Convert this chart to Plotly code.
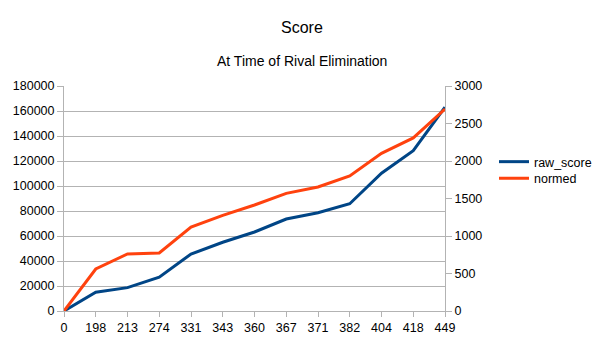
import plotly.graph_objects as go

categories = ["0", "198", "213", "274", "331", "343", "360", "367", "371", "382", "404", "418", "449"]
raw_score = [0, 15000, 18700, 27000, 45600, 55000, 63200, 73600, 78600, 85800, 110200, 128200, 163000]
normed = [0, 560, 760, 773, 1120, 1276, 1413, 1569, 1653, 1800, 2102, 2307, 2693]

FONT = "Liberation Sans, Arial, sans-serif"
GRID = "#b3b3b3"
L, R, T, B = 64, 160, 85.5, 29
W, H = 605, 340
pw, ph = W - L - R, H - T - B


def px_x(x):
    return (x - L) / pw


def px_y(y):
    return (H - B - y) / ph


fig = go.Figure()
fig.add_trace(go.Scatter(x=categories, y=raw_score, name="raw_score", mode="lines",
                         line=dict(color="#004586", width=3), yaxis="y", legend="legend"))
fig.add_trace(go.Scatter(x=categories, y=normed, name="normed", mode="lines",
                         line=dict(color="#ff420e", width=3), yaxis="y2", legend="legend2"))

leg_common = dict(xanchor="left", yanchor="middle", font=dict(size=12.5),
                  bgcolor="rgba(0,0,0,0)", itemwidth=30)

fig.update_layout(
    width=W, height=H,
    margin=dict(l=L, r=R, t=T, b=B, autoexpand=False),
    paper_bgcolor="white", plot_bgcolor="white",
    font=dict(family=FONT, size=12.5, color="#000000"),
    showlegend=True,
    legend=dict(x=px_x(494), y=px_y(161.7), **leg_common),
    legend2=dict(x=px_x(494), y=px_y(178.3), **leg_common),
    xaxis=dict(type="category", range=[0, 12], showgrid=False, automargin=False,
               showline=True, linecolor=GRID, linewidth=1,
               ticks="outside", ticklen=5, tickcolor=GRID,
               tickfont=dict(size=12.5)),
    yaxis=dict(range=[0, 180000], dtick=20000, showgrid=True, gridcolor=GRID,
               automargin=False,
               showline=True, linecolor=GRID, ticks="outside", ticklen=6,
               tickcolor=GRID, zeroline=False, tickformat="d"),
    yaxis2=dict(range=[0, 3000], dtick=500, overlaying="y", side="right",
                automargin=False,
                showgrid=False, showline=True, linecolor=GRID, ticks="outside",
                ticklen=6, tickcolor=GRID, zeroline=False, tickformat="d"),
    annotations=[
        dict(text="Score", x=px_x(302), y=px_y(27), xref="paper", yref="paper",
             showarrow=False, font=dict(size=16), xanchor="center", yanchor="middle"),
        dict(text="At Time of Rival Elimination", x=px_x(302), y=px_y(60),
             xref="paper", yref="paper", showarrow=False, font=dict(size=14),
             xanchor="center", yanchor="middle"),
    ],
)

fig.write_html("out.html")
